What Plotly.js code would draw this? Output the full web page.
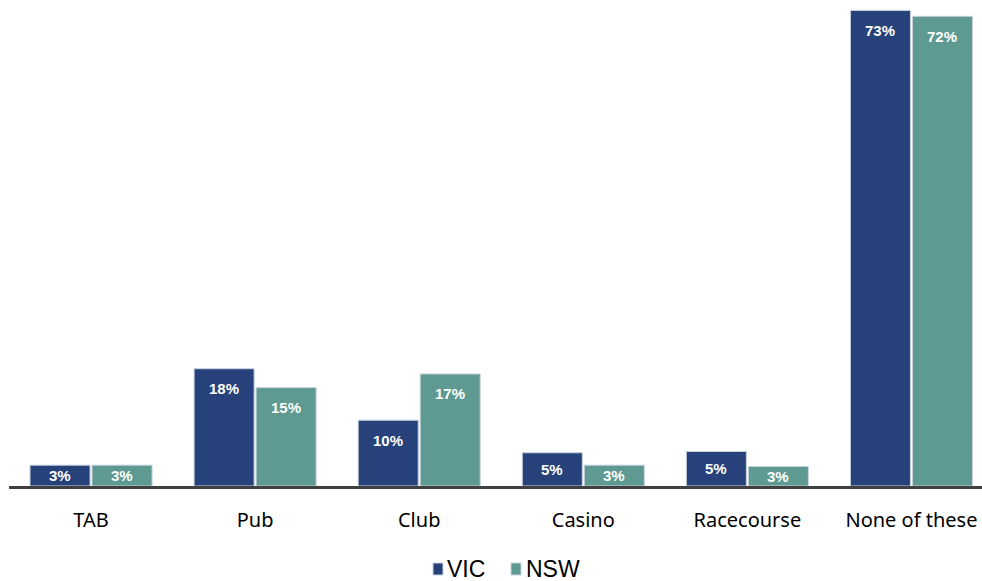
<!DOCTYPE html>
<html><head><meta charset="utf-8">
<script src="https://cdn.plot.ly/plotly-3.0.1.min.js"></script>
<style>html,body{margin:0;padding:0;background:#fff}</style>
</head><body><div id="chart" style="width:982px;height:581px"></div>
<script>
const categories = ["TAB", "Pub", "Club", "Casino", "Racecourse", "None of these"];
const vicValues = [3.2, 18.0, 10.1, 5.1, 5.3, 73.0];
const nswValues = [3.2, 15.1, 17.2, 3.2, 3.0, 72.1];
const vicLabels = ["3%", "18%", "10%", "5%", "5%", "73%"];
const nswLabels = ["3%", "15%", "17%", "3%", "3%", "72%"];
const seriesNames = ["VIC", "NSW"];
const colors = ["#27427a", "#5e9a91"];

const W = 982, H = 581;
const M = {l: 9, r: 0, t: 0, b: 95};
const plotW = W - M.l - M.r, plotH = H - M.t - M.b;
const YMAX = 74.6;
const pxPerUnit = plotH / YMAX;
function labelY(v) { return Math.max(v - 20 / pxPerUnit, v / 2); }

const traces = [vicValues, nswValues].map((vals, i) => ({
  type: "bar", x: categories, y: vals, name: seriesNames[i],
  marker: {color: colors[i], line: {color: "#c9d2de", width: 1}},
  hoverinfo: "skip", showlegend: false
}));

const annotations = [];
[[vicValues, vicLabels, -31], [nswValues, nswLabels, 31]].forEach(([vals, labs, shift]) => {
  vals.forEach((v, j) => annotations.push({
    x: categories[j], y: labelY(v), xref: "x", yref: "y", text: labs[j],
    showarrow: false, xshift: shift, yanchor: "middle",
    font: {family: "Arial, Liberation Sans, sans-serif", size: 15, color: "#ffffff", weight: "bold"}
  }));
});

// custom legend (swatch + text), positioned in pixels converted to paper coords
const px = x => (x - M.l) / plotW;
const py = y => (M.t + plotH - y) / plotH;
const legendItems = [{sx: 433, tx: 445}, {sx: 511, tx: 524}];
const shapes = [];
legendItems.forEach((it, i) => {
  shapes.push({type: "rect", xref: "paper", yref: "paper",
    x0: px(it.sx), x1: px(it.sx + 10), y0: py(575), y1: py(563),
    fillcolor: colors[i], line: {color: "#c9d2de", width: 1}});
  annotations.push({xref: "paper", yref: "paper", x: px(it.tx), y: py(569),
    xanchor: "left", yanchor: "middle", showarrow: false, text: seriesNames[i],
    font: {family: "Arial, Liberation Sans, sans-serif", size: 23, color: "#000"}});
});

const layout = {
  width: W, height: H,
  margin: Object.assign({autoexpand: false}, M),
  paper_bgcolor: "#fff", plot_bgcolor: "#fff",
  barmode: "group", bargap: 0.244, bargroupgap: 0.032,
  xaxis: {range: [-0.5, 5.43], showline: true, linecolor: "#404040", linewidth: 3,
    ticks: "", showgrid: false, zeroline: false, ticklabelstandoff: 14,
    tickfont: {family: "Noto Sans, sans-serif", size: 20, color: "#000"}},
  yaxis: {range: [0, YMAX], visible: false, fixedrange: true},
  showlegend: false,
  shapes: shapes,
  annotations: annotations
};
Plotly.newPlot("chart", traces, layout, {displayModeBar: false, staticPlot: true});
</script></body></html>
